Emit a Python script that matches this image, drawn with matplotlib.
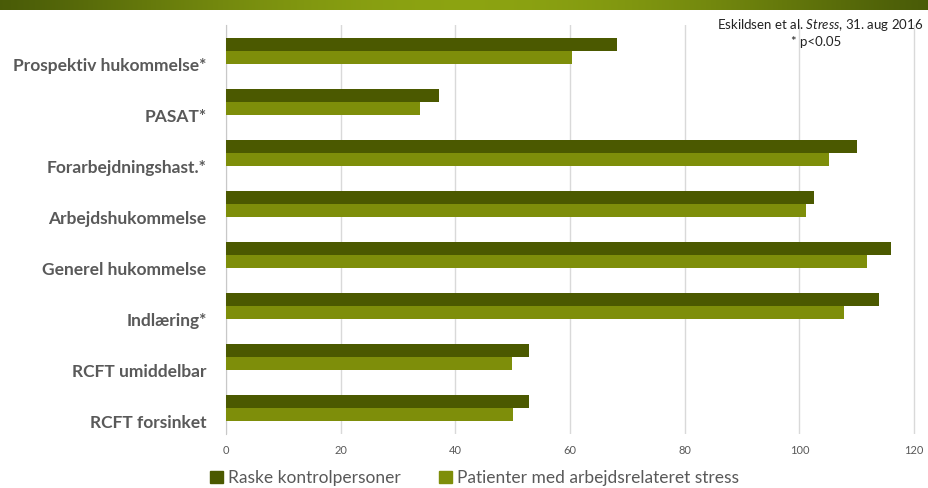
import matplotlib.pyplot as plt
from matplotlib.patches import Patch
import numpy as np

categories = ["Prospektiv hukommelse*", "PASAT*", "Forarbejdningshast.*", "Arbejdshukommelse",
              "Generel hukommelse", "Indlæring*", "RCFT umiddelbar", "RCFT forsinket"]
kontrol = [68.1, 37.2, 110.1, 102.5, 116.0, 113.9, 52.8, 52.8]
stress = [60.3, 33.9, 105.2, 101.2, 111.8, 107.7, 49.8, 50.0]
xticks = [0, 20, 40, 60, 80, 100, 120]
series_names = ["Raske kontrolpersoner", "Patienter med arbejdsrelateret stress"]

DARK = "#4b5900"
LIGHT = "#7e8e0a"
GRAY = "#595959"

plt.rcParams["font.family"] = ["Lato", "DejaVu Sans"]
plt.rcParams["mathtext.fontset"] = "custom"
plt.rcParams["mathtext.it"] = "Lato:italic"
plt.rcParams["mathtext.rm"] = "Lato"

fig = plt.figure(figsize=(9.29, 4.88), dpi=100)

# green banner at top
bax = fig.add_axes([0, 1 - 10 / 488, 1, 10 / 488])
t = np.linspace(0, 1, 400)
s = np.sin(np.pi * t) ** 1.2
grad = np.stack([0.29 + 0.26 * s, 0.36 + 0.28 * s, 0.03 + 0.04 * s], axis=-1)[None, :, :]
bax.imshow(grad, aspect="auto", extent=[0, 1, 0, 1])
bax.axis("off")

ax = fig.add_axes([226 / 929, (488 - 433.5) / 488, 691 / 929, 408 / 488])
y = np.arange(len(categories))
h = 0.255
ax.barh(y - h / 2, kontrol, height=h, color=DARK, zorder=3)
ax.barh(y + h / 2, stress, height=h, color=LIGHT, zorder=3)

ax.set_ylim(len(categories) - 0.5, -0.5)
ax.set_xlim(0, 120.5)
ax.set_xticks(xticks)
ax.set_xticklabels([str(v) for v in xticks], color=GRAY, fontsize=8)
ax.set_yticks(y + 0.27)
ax.set_yticklabels(categories, color=GRAY, fontsize=12.5, fontweight="bold")
ax.tick_params(axis="both", length=0)
ax.tick_params(axis="x", pad=8)
ax.tick_params(axis="y", pad=14)
ax.grid(axis="x", color="#d9d9d9", linewidth=1, zorder=0)
for sp in ["top", "right", "bottom"]:
    ax.spines[sp].set_visible(False)
ax.spines["left"].set_color("#c8c8c8")

fig.text(923 / 929, 1 - 25 / 488, r"Eskildsen et al. $\mathit{Stress}$, 31. aug 2016",
         ha="right", va="center", fontsize=9.5, color="#222222")
fig.text(816 / 929, 1 - 42 / 488, "* p<0.05", ha="center", va="center", fontsize=9.5, color="#222222")

handles = [Patch(color=DARK), Patch(color=LIGHT)]
fig.legend(handles, series_names, loc="center left", bbox_to_anchor=(210 / 929, 1 - 478 / 488),
           ncol=2, frameon=False, fontsize=12.5, labelcolor=GRAY, handlelength=0.75, handleheight=0.75,
           handletextpad=0.3, columnspacing=2.2, borderaxespad=0, borderpad=0)

fig.savefig("out.png", dpi=100)
